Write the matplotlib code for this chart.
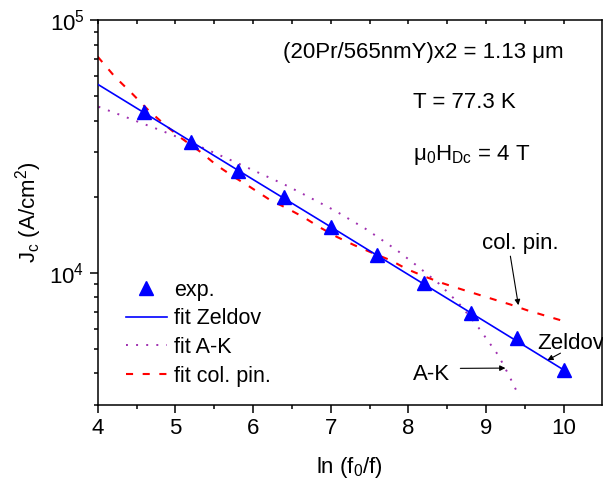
import numpy as np
import matplotlib
matplotlib.use('Agg')
import matplotlib.pyplot as plt
from matplotlib.ticker import LogLocator, NullFormatter, MultipleLocator

plt.rcParams['font.family'] = ['Liberation Sans', 'DejaVu Sans']
plt.rcParams['mathtext.fontset'] = 'custom'
plt.rcParams['mathtext.rm'] = 'Liberation Sans'
plt.rcParams['mathtext.it'] = 'Liberation Sans'
plt.rcParams['mathtext.default'] = 'regular'

# measured critical current density
x_exp = [4.6, 5.2, 5.8, 6.4, 7.0, 7.6, 8.2, 8.8, 9.4, 10.0]
j_exp = [43400, 32960, 25350, 20000, 15210, 11750, 9080, 6950, 5500, 4120]

# Zeldov fit (straight in semi-log)
x_zel = [4.0, 5.0, 6.0, 7.0, 8.0, 9.0, 10.0]
j_zel = [55700, 36100, 23400, 15200, 9840, 6380, 4130]

# Anderson-Kim fit
x_ak = [4.01, 4.27, 4.54, 4.8, 5.19, 5.8, 6.4, 6.65, 7.06, 7.46, 7.85,
        8.11, 8.39, 8.65, 8.87, 9.16, 9.3, 9.43]
j_ak = [45390, 42360, 39360, 36730, 32890, 27160, 22390, 20460, 17580,
        14860, 12300, 10670, 9080, 7570, 6270, 4710, 3900, 3230]

# collective pinning fit
x_cp = [4.0, 4.22, 4.44, 4.65, 4.87, 5.08, 5.32, 5.53, 5.75, 5.96, 6.22,
        6.44, 6.65, 6.87, 7.08, 7.3, 7.55, 7.77, 7.98, 8.22, 8.45, 8.65,
        8.88, 9.1, 9.31, 9.53, 10.0]
j_cp = [71610, 59700, 51290, 44060, 38370, 34040, 30130, 26670, 23990,
        21880, 19410, 17990, 16600, 15070, 13870, 12880, 11940, 11220,
        10350, 9640, 9080, 8670, 8240, 7850, 7500, 7110, 6440]

fig = plt.figure(figsize=(6.03, 4.88), dpi=100)
ax = fig.add_axes([0.162, 0.170, 0.836, 0.789])

ax.plot(x_zel, j_zel, '-', color='#0000ff', lw=1.2, label='fit Zeldov', zorder=3)
ax.plot(x_ak, j_ak, color='#a030b0', lw=1.4, ls=(0, (1, 4.2)), label='fit A-K', zorder=2)
ax.plot(x_cp, j_cp, color='#ff0000', lw=1.5, ls=(0, (3.4, 4.6)), label='fit col. pin.', zorder=2)
ax.plot(x_exp, j_exp, '^', color='#0000ff', ms=10.5, mec='#0000ff', ls='none', label='exp.', zorder=4)

ax.set_yscale('log')
ax.set_xlim(4, 10.49)
ax.set_ylim(3000, 1e5)
ax.xaxis.set_major_locator(MultipleLocator(1))
ax.xaxis.set_minor_locator(MultipleLocator(0.5))
ax.yaxis.set_major_locator(LogLocator(base=10))
ax.yaxis.set_minor_locator(LogLocator(base=10, subs=np.arange(2, 10)))
ax.yaxis.set_minor_formatter(NullFormatter())

for s in ax.spines.values():
    s.set_linewidth(1.1)
ax.tick_params(axis='both', which='both', labelsize=16, width=1.1)
ax.tick_params(axis='x', which='major', direction='out', length=6, top=False)
ax.tick_params(axis='x', which='minor', direction='out', length=3, top=False)
ax.tick_params(axis='y', which='major', direction='out', length=6, right=False)
ax.tick_params(axis='y', which='minor', direction='out', length=3, right=False)

# inward ticks along the top edge
sec = ax.secondary_xaxis('top')
sec.xaxis.set_major_locator(MultipleLocator(0.5))
sec.tick_params(direction='in', length=3, width=1.1, labeltop=False)
sec.spines['top'].set_visible(False)

ax.set_xlabel('ln (f$_0$/f)', fontsize=16, labelpad=11)
ax.set_ylabel('J$_c$ (A/cm$^2$)', fontsize=16, labelpad=4)

ax.text(6.38, 70560, '(20Pr/565nmY)x2 = 1.13 \u03bcm', fontsize=16, va='baseline')
ax.text(8.065, 44740, 'T = 77.3 K', fontsize=16, va='baseline')
ax.text(8.065, 27920, '$\\mu_0H_{Dc}$ = 4 T', fontsize=16, va='baseline')

arrow = dict(arrowstyle='-|>', color='black', lw=0.8, mutation_scale=8,
             shrinkA=0, shrinkB=0)
ax.text(9.44, 12410, 'col. pin.', fontsize=16, ha='center', va='baseline')
ax.annotate('', xy=(9.416, 7450), xytext=(9.313, 11640), arrowprops=arrow)
ax.text(9.661, 4990, 'Zeldov', fontsize=16, va='baseline', clip_on=False)
ax.annotate('', xy=(9.79, 4513), xytext=(9.958, 4812), arrowprops=arrow)
ax.text(8.063, 3762, 'A-K', fontsize=16, va='baseline')
ax.annotate('', xy=(9.249, 4200), xytext=(8.669, 4190), arrowprops=arrow)

h, l = ax.get_legend_handles_labels()
order = [3, 0, 1, 2]
ax.legend([h[i] for i in order], [l[i] for i in order], loc='upper left',
          bbox_to_anchor=(0.056, 0.325), frameon=False, fontsize=15.5,
          handlelength=1.9, handletextpad=0.33, labelspacing=0.35,
          borderpad=0, borderaxespad=0, numpoints=1)

fig.savefig('out.png', dpi=100)
